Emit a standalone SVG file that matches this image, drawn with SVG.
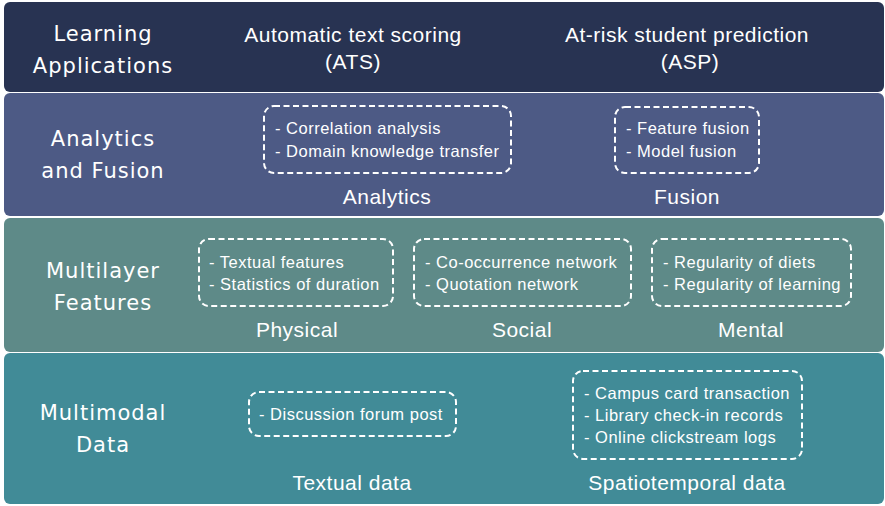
<svg xmlns="http://www.w3.org/2000/svg" width="885" height="506" viewBox="0 0 885 506">
<style>
.layer{stroke:none}
.lbl{font-family:"DejaVu Sans","Liberation Sans",sans-serif;font-size:21px;fill:#ffffff;text-anchor:middle;letter-spacing:1px}
.t{font-family:"Liberation Sans",Arial,sans-serif;font-size:21px;fill:#ffffff;text-anchor:middle;letter-spacing:0.5px}
.b{font-family:"Liberation Sans",Arial,sans-serif;font-size:16.5px;fill:#ffffff;letter-spacing:0.5px}
.box{fill:none;stroke:#ffffff;stroke-width:2;stroke-dasharray:6 3.5}
</style>
<rect width="885" height="506" fill="#ffffff"/>
<g id="layer-applications">
<rect class="layer" x="4" y="2" width="880" height="90" rx="6" fill="#283352"/>
<text class="lbl" x="103" y="41">Learning</text>
<text class="lbl" x="103" y="73">Applications</text>
<text class="t" x="353" y="42">Automatic text scoring</text>
<text class="t" x="353" y="69">(ATS)</text>
<text class="t" x="687" y="42">At-risk student prediction</text>
<text class="t" x="690" y="69">(ASP)</text>
</g>
<g id="layer-analytics">
<rect class="layer" x="4" y="93" width="880" height="123" rx="6" fill="#4d5a85"/>
<text class="lbl" x="103" y="146">Analytics</text>
<text class="lbl" x="103" y="178">and Fusion</text>
<g id="analytics">
<rect class="box" x="264" y="106" width="247" height="67" rx="10"/>
<text class="b" x="275" y="134">- Correlation analysis</text>
<text class="b" x="275" y="157">- Domain knowledge transfer</text>
<text class="t" x="387" y="204">Analytics</text>
</g>
<g id="fusion">
<rect class="box" x="615" y="107" width="144" height="66" rx="10"/>
<text class="b" x="626" y="134">- Feature fusion</text>
<text class="b" x="626" y="157">- Model fusion</text>
<text class="t" x="687" y="204">Fusion</text>
</g>
</g>
<g id="layer-features">
<rect class="layer" x="4" y="218" width="880" height="134" rx="6" fill="#5e8a88"/>
<text class="lbl" x="103" y="278">Multilayer</text>
<text class="lbl" x="103" y="310">Features</text>
<g id="physical">
<rect class="box" x="199" y="239" width="194" height="67" rx="10"/>
<text class="b" x="209" y="268">- Textual features</text>
<text class="b" x="209" y="290">- Statistics of duration</text>
<text class="t" x="297" y="337">Physical</text>
</g>
<g id="social">
<rect class="box" x="414" y="239" width="217" height="67" rx="10"/>
<text class="b" x="425" y="268">- Co-occurrence network</text>
<text class="b" x="425" y="290">- Quotation network</text>
<text class="t" x="522" y="337">Social</text>
</g>
<g id="mental">
<rect class="box" x="652" y="239" width="199" height="67" rx="10"/>
<text class="b" x="663" y="268">- Regularity of diets</text>
<text class="b" x="663" y="290">- Regularity of learning</text>
<text class="t" x="751" y="337">Mental</text>
</g>
</g>
<g id="layer-data">
<rect class="layer" x="4" y="353" width="880" height="151" rx="6" fill="#418b97"/>
<text class="lbl" x="103" y="420">Multimodal</text>
<text class="lbl" x="103" y="452">Data</text>
<g id="textual-data">
<rect class="box" x="249" y="392" width="207" height="44" rx="10"/>
<text class="b" x="259" y="420">- Discussion forum post</text>
<text class="t" x="352" y="490">Textual data</text>
</g>
<g id="spatiotemporal-data">
<rect class="box" x="573" y="371" width="229" height="88" rx="10"/>
<text class="b" x="584" y="399">- Campus card transaction</text>
<text class="b" x="584" y="421">- Library check-in records</text>
<text class="b" x="584" y="443">- Online clickstream logs</text>
<text class="t" x="687" y="490">Spatiotemporal data</text>
</g>
</g>
<g id="connectors"/>
</svg>
